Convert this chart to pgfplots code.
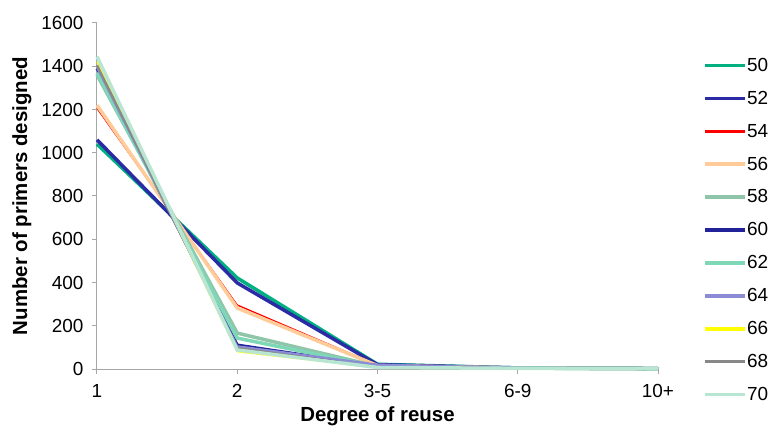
\documentclass[border=0pt]{standalone}
\usepackage{fontspec}
\setmainfont{Liberation Sans}
\usepackage{pgfplots}
\pgfplotsset{compat=1.18}
\definecolor{c50}{HTML}{00B080}
\definecolor{c52}{HTML}{2B2BA6}
\definecolor{c54}{HTML}{FF0000}
\definecolor{c56}{HTML}{FFCC99}
\definecolor{c58}{HTML}{8FC5A8}
\definecolor{c60}{HTML}{22229A}
\definecolor{c62}{HTML}{7ED8B8}
\definecolor{c64}{HTML}{8B8BD6}
\definecolor{c66}{HTML}{FFFF00}
\definecolor{c68}{HTML}{888888}
\definecolor{c70}{HTML}{B9E6D3}
\begin{document}
\begin{tikzpicture}
\begin{axis}[
  at={(0,0)}, anchor=south west,
  scale only axis, width=561bp, height=346bp,
  xmin=0, xmax=4, ymin=0, ymax=1600,
  axis x line=bottom, axis y line=left,
  axis line style={draw=gray!70, line width=1bp, -},
  xtick={0,1,2,3,4}, xticklabels={1,2,3-5,6-9,10+},
  ytick={0,200,...,1600},
  tick style={draw=gray!70, line width=1bp},
  tick align=outside, major tick length=5bp,
  /pgf/number format/assume math mode=true,
  /pgf/number format/1000 sep={},
  tick label style={font=\fontsize{19}{22}\selectfont},
  xticklabel style={yshift=-7bp},
  yticklabel style={xshift=-5bp},
  xlabel={\textbf{Degree of reuse}},
  ylabel={\textbf{Number of primers designed}},
  label style={font=\fontsize{20.5}{23}\selectfont},
  xlabel style={at={(axis description cs:0.5,0)}, anchor=center, yshift=-47bp},
  ylabel style={yshift=3bp},
  legend style={at={(rel axis cs:1.08,0.9)}, anchor=north west, draw=none, fill=none,
    font=\fontsize{19}{22}\selectfont, row sep=17.2bp, inner sep=0pt,
    nodes={inner sep=0.5bp}},
  legend cell align=left,
  legend image code/.code={\draw[#1, line width=3.5bp] (0bp,0bp) -- (40bp,0bp);},
  clip=false,
]
\addplot[c50, line width=3.5bp] coordinates {(0,1040) (1,421) (2,22) (3,5) (4,2)};
\addlegendentry{50}
\addplot[c52, line width=3.5bp] coordinates {(0,1060) (1,398) (2,20) (3,5) (4,2)};
\addlegendentry{52}
\addplot[c54, line width=1.3bp] coordinates {(0,1205) (1,296) (2,18) (3,5) (4,2)};
\addlegendentry{54}
\addplot[c56, line width=3.5bp] coordinates {(0,1220) (1,282) (2,16) (3,5) (4,2)};
\addlegendentry{56}
\addplot[c58, line width=3.5bp] coordinates {(0,1360) (1,166) (2,12) (3,4) (4,2)};
\addlegendentry{58}
\addplot[c60, line width=3bp] coordinates {(0,1390) (1,111) (2,14) (3,4) (4,2)};
\addlegendentry{60}
\addplot[c62, line width=3.5bp] coordinates {(0,1370) (1,143) (2,10) (3,4) (4,2)};
\addlegendentry{62}
\addplot[c64, line width=2.2bp] coordinates {(0,1395) (1,105) (2,20) (3,5) (4,2)};
\addlegendentry{64}
\addplot[c66, line width=1.3bp] coordinates {(0,1420) (1,80) (2,6) (3,3) (4,1)};
\addlegendentry{66}
\addplot[c68, line width=2.2bp] coordinates {(0,1405) (1,97) (2,8) (3,3) (4,1)};
\addlegendentry{68}
\addplot[c70, line width=3.5bp] coordinates {(0,1445) (1,88) (2,7) (3,3) (4,1)};
\addlegendentry{70}
\end{axis}
\pgfresetboundingbox
\path[use as bounding box] (-97bp,-60bp) rectangle (672bp,369bp);
\end{tikzpicture}
\end{document}
